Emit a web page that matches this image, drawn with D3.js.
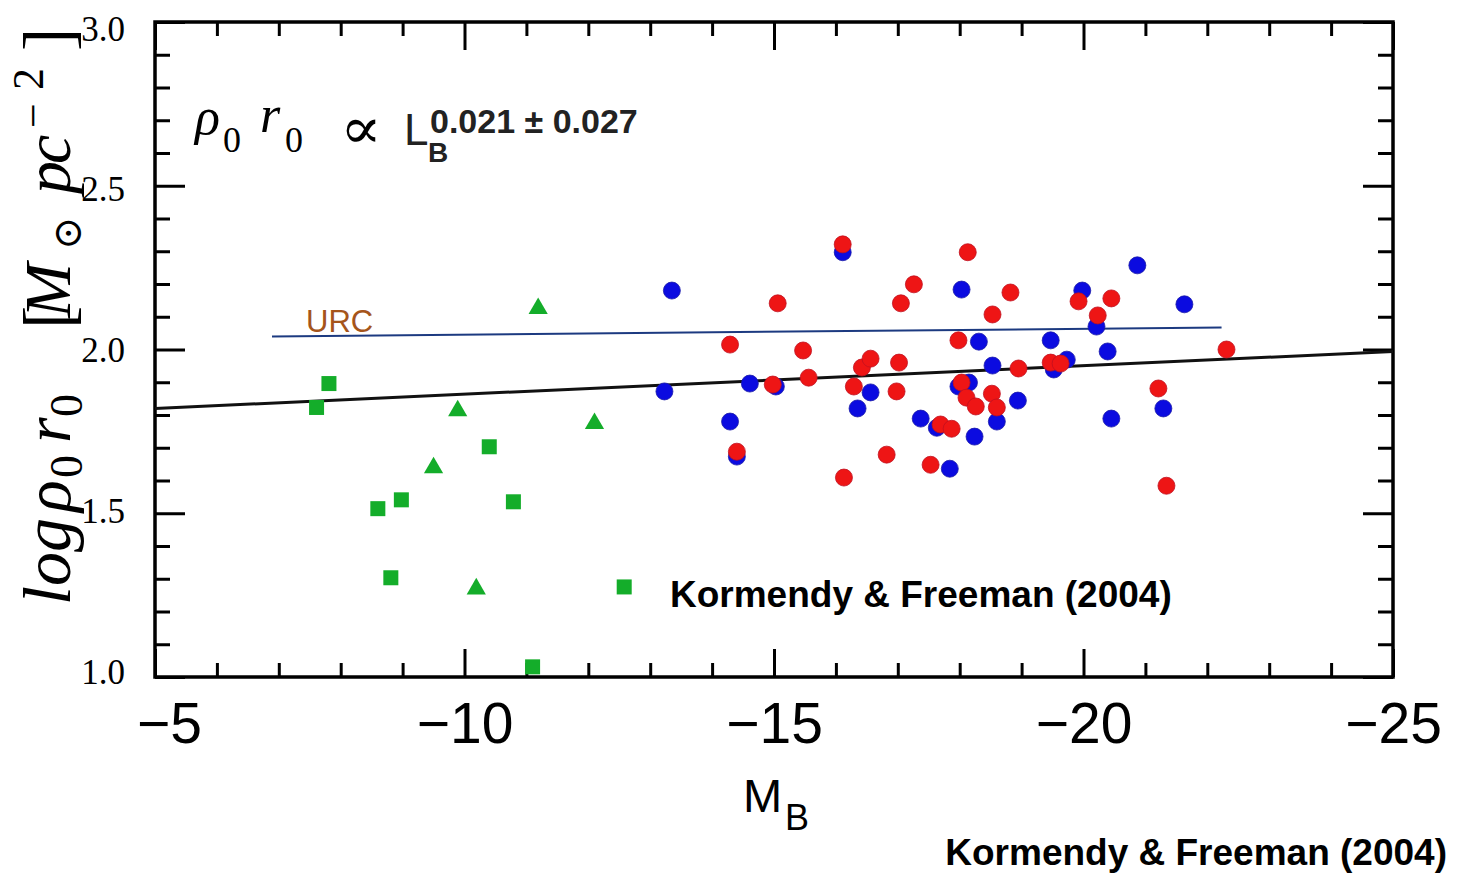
<!DOCTYPE html>
<html>
<head>
<meta charset="utf-8">
<script src="https://cdn.jsdelivr.net/npm/d3@7"></script>
<style>
  html, body { margin: 0; padding: 0; background: #fff; }
  svg { display: block; }
</style>
</head>
<body>
<svg id="chart" width="1459" height="875"></svg>
<script>
// ---------------- DATA ----------------
const xMajorTicks = [-5, -10, -15, -20, -25];
const yMajorTicks = [1.0, 1.5, 2.0, 2.5, 3.0];
const yTickLabels = ["1.0", "1.5", "2.0", "2.5", "3.0"];

// green squares (dwarfs)
const squaresX = [-7.61, -7.81, -8.60, -8.98, -8.81, -10.40, -10.79, -12.58, -11.10];
const squaresY = [1.823, 1.896, 1.514, 1.541, 1.303, 1.703, 1.535, 1.275, 1.031];
// green triangles
const trianglesX = [-11.19, -9.89, -12.10, -9.50, -10.19];
const trianglesY = [2.125, 1.813, 1.774, 1.639, 1.269];
// blue circles
const blueX = [-13.35, -13.23, -14.61, -14.29, -14.40, -15.03, -16.11, -16.56, -16.35, -17.37,
               -17.63, -18.24, -17.84, -18.03, -18.31, -17.98, -18.15, -18.53, -18.60, -18.94,
               -19.47, -19.52, -19.73, -19.98, -20.21, -20.39, -20.45, -20.87, -21.63, -21.29];
const blueY = [2.180, 1.872, 1.896, 1.780, 1.673, 1.887, 2.297, 1.869, 1.820, 1.789,
               1.761, 1.734, 1.636, 2.183, 2.024, 1.887, 1.899, 1.951, 1.780, 1.844,
               2.028, 1.939, 1.969, 2.180, 2.070, 1.994, 1.789, 2.257, 2.138, 1.820];
// red circles
const redX = [-16.11, -15.06, -14.29, -15.47, -14.98, -15.56, -14.40, -16.13, -16.29, -16.42,
              -16.56, -17.02, -16.98, -17.05, -17.26, -16.82, -17.53, -17.69, -17.87, -17.98,
              -18.13, -18.03, -18.11, -18.26, -18.52, -18.60, -18.53, -18.82, -18.95, -19.47,
              -19.63, -19.92, -20.23, -20.45, -21.21, -21.34, -22.31];
const redY = [2.321, 2.141, 2.015, 1.997, 1.893, 1.914, 1.688, 1.609, 1.887, 1.945,
              1.972, 1.960, 1.872, 2.141, 2.199, 1.679, 1.648, 1.771, 1.758, 2.028,
              2.297, 1.899, 1.853, 1.826, 1.865, 1.823, 2.107, 2.174, 1.942, 1.960,
              1.957, 2.147, 2.104, 2.156, 1.881, 1.584, 2.000];

// fitted relation and URC line (data units)
const fitLineX = [-5, -25];
const fitLineY = [1.820, 1.994];
const urcLineX = [-6.89, -22.23];
const urcLineY = [2.040, 2.067];

const creditText = "Kormendy & Freeman (2004)";

// ---------------- LAYOUT ----------------
const svg = d3.select("#chart");
svg.append("rect").attr("width", 1459).attr("height", 875).attr("fill", "#fff");

const L = 155, R = 1393, T = 22, B = 677;
const x = d3.scaleLinear().domain([-5, -25]).range([L, R]);
const y = d3.scaleLinear().domain([1.0, 3.0]).range([B, T]);

const xMinor = d3.range(5, 26).filter(v => v % 5 !== 0).map(v => -v);
const yMinor = d3.range(10, 31).filter(v => v % 5 !== 0).map(v => v / 10);

function styleAxis(g) {
  g.select(".domain").remove();
  g.selectAll(".tick line").attr("stroke", "#000").attr("stroke-width", 3);
}

// bottom axis
svg.append("g").attr("transform", `translate(0,${B})`)
  .call(d3.axisBottom(x).tickValues(xMinor).tickSize(-14).tickFormat(""))
  .call(styleAxis);
const xb = svg.append("g").attr("transform", `translate(0,${B})`)
  .call(d3.axisBottom(x).tickValues(xMajorTicks).tickSizeInner(-28).tickSizeOuter(0).tickPadding(26))
  .call(styleAxis);
xb.selectAll(".tick text")
  .attr("font-family", "Liberation Sans, Arial, sans-serif")
  .attr("font-size", 57).attr("fill", "#000")
  .attr("dx", (d, i) => i === 0 ? 14 : 0);

// top axis
svg.append("g").attr("transform", `translate(0,${T})`)
  .call(d3.axisTop(x).tickValues(xMinor).tickSize(-14).tickFormat(""))
  .call(styleAxis);
svg.append("g").attr("transform", `translate(0,${T})`)
  .call(d3.axisTop(x).tickValues(xMajorTicks).tickSize(-28).tickFormat(""))
  .call(styleAxis);

// left axis
svg.append("g").attr("transform", `translate(${L},0)`)
  .call(d3.axisLeft(y).tickValues(yMinor).tickSize(-15).tickFormat(""))
  .call(styleAxis);
const yl = svg.append("g").attr("transform", `translate(${L},0)`)
  .call(d3.axisLeft(y).tickValues(yMajorTicks).tickSizeInner(-30).tickSizeOuter(0).tickPadding(30)
        .tickFormat((d, i) => yTickLabels[i]))
  .call(styleAxis);
yl.selectAll(".tick text")
  .attr("font-family", "Liberation Serif, Times New Roman, serif")
  .attr("font-size", 35).attr("fill", "#000")
  .attr("dy", d => (12 + (d - 2) * 6) + "px");

// right axis
svg.append("g").attr("transform", `translate(${R},0)`)
  .call(d3.axisRight(y).tickValues(yMinor).tickSize(-15).tickFormat(""))
  .call(styleAxis);
svg.append("g").attr("transform", `translate(${R},0)`)
  .call(d3.axisRight(y).tickValues(yMajorTicks).tickSize(-30).tickFormat(""))
  .call(styleAxis);

// frame
svg.append("rect").attr("x", L).attr("y", T).attr("width", R - L).attr("height", B - T)
  .attr("fill", "none").attr("stroke", "#000").attr("stroke-width", 3.5);

// lines
const line = d3.line().x(d => x(d[0])).y(d => y(d[1]));
svg.append("path").datum(fitLineX.map((v, i) => [v, fitLineY[i]]))
  .attr("d", line).attr("stroke", "#111").attr("stroke-width", 3).attr("fill", "none");
svg.append("path").datum(urcLineX.map((v, i) => [v, urcLineY[i]]))
  .attr("d", line).attr("stroke", "#1c3a80").attr("stroke-width", 2).attr("fill", "none");

svg.append("text").attr("x", 306).attr("y", 332)
  .attr("font-family", "Liberation Sans, Arial, sans-serif").attr("font-size", 31)
  .attr("fill", "#a5551b").text("URC");

// markers
const green = "#14ad2a";
svg.append("g").selectAll("rect").data(squaresX.map((v, i) => [v, squaresY[i]])).join("rect")
  .attr("x", d => x(d[0]) - 7.5).attr("y", d => y(d[1]) - 7.5)
  .attr("width", 15).attr("height", 15).attr("fill", green);
const tri = d3.symbol().type(d3.symbolTriangle).size(160);
svg.append("g").selectAll("path").data(trianglesX.map((v, i) => [v, trianglesY[i]])).join("path")
  .attr("d", tri).attr("transform", d => `translate(${x(d[0])},${y(d[1])})`).attr("fill", green);

svg.append("g").selectAll("circle").data(blueX.map((v, i) => [v, blueY[i]])).join("circle")
  .attr("cx", d => x(d[0])).attr("cy", d => y(d[1])).attr("r", 8.5)
  .attr("fill", "#0b0be0").attr("stroke", "#1a1aa8").attr("stroke-width", 0.8);
svg.append("g").selectAll("circle").data(redX.map((v, i) => [v, redY[i]])).join("circle")
  .attr("cx", d => x(d[0])).attr("cy", d => y(d[1])).attr("r", 8.5)
  .attr("fill", "#ee1515").attr("stroke", "#c01020").attr("stroke-width", 0.8);

// formula annotation
const serif = "Liberation Serif, Times New Roman, serif";
const sans = "Liberation Sans, Arial, sans-serif";
const f = svg.append("g");
f.append("text").attr("x", 195).attr("y", 134).attr("font-family", serif).attr("font-style", "italic")
  .attr("font-size", 52).text("ρ");
f.append("text").attr("x", 223).attr("y", 152).attr("font-family", serif).attr("font-size", 36).text("0");
f.append("text").attr("x", 260).attr("y", 132).attr("font-family", serif).attr("font-style", "italic")
  .attr("font-size", 52).text("r");
f.append("text").attr("x", 285).attr("y", 152).attr("font-family", serif).attr("font-size", 36).text("0");
f.append("text").attr("x", 340).attr("y", 148).attr("font-family", "DejaVu Serif, serif")
  .attr("font-size", 58).attr("textLength", 42).attr("lengthAdjust", "spacingAndGlyphs").text("∝");
f.append("text").attr("x", 404).attr("y", 145).attr("font-family", sans).attr("font-size", 44)
  .attr("fill", "#222").text("L");
f.append("text").attr("x", 428).attr("y", 162).attr("font-family", sans).attr("font-weight", "bold")
  .attr("font-size", 28).attr("fill", "#222").text("B");
f.append("text").attr("x", 430).attr("y", 133).attr("font-family", sans).attr("font-weight", "bold")
  .attr("font-size", 34).attr("fill", "#222").text("0.021 ± 0.027");

// credits
svg.append("text").attr("x", 670).attr("y", 607).attr("font-family", sans).attr("font-weight", "bold")
  .attr("font-size", 37).attr("fill", "#000").text(creditText);
svg.append("text").attr("x", 1447).attr("y", 865).attr("text-anchor", "end").attr("font-family", sans)
  .attr("font-weight", "bold").attr("font-size", 37).attr("fill", "#000").text(creditText);

// x axis title M_B
const xt = svg.append("text").attr("font-family", sans).attr("fill", "#000");
xt.append("tspan").attr("x", 743).attr("y", 812).attr("font-size", 47).text("M");
xt.append("tspan").attr("x", 785).attr("y", 830).attr("font-size", 36).text("B");

// y axis title (rotated)
const yg = svg.append("g").attr("transform", "translate(70,0) rotate(-90)")
  .attr("font-family", serif).attr("fill", "#000");
function yPiece(u, v, txt, size, italic, family) {
  yg.append("text").attr("x", u).attr("y", v).attr("font-size", size)
    .attr("font-style", italic ? "italic" : "normal")
    .attr("font-family", family || serif).text(txt);
}
yPiece(-605, 0, "log", 68, true);
yPiece(-512, 0, "ρ", 66, true);
yPiece(-478, 12, "0", 46, false);
yPiece(-443, 0, "r", 66, true);
yPiece(-417, 12, "0", 46, false);
yPiece(-329, 2, "[", 70, false);
yPiece(-318, 0, "M", 66, true);
yPiece(-250, 11, "⊙", 40, false, "DejaVu Serif, serif");
yPiece(-194, 0, "p", 66, true);
yPiece(-164, 0, "c", 66, true);
yPiece(-128, -22, "−", 44, false);
yPiece(-90, -27, "2", 44, false);
yPiece(-51, 2, "]", 70, false);
</script>
</body>
</html>
